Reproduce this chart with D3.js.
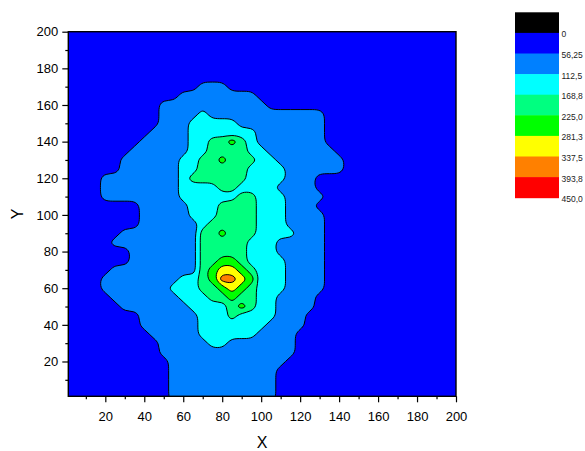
<!DOCTYPE html>
<html>
<head>
<meta charset="utf-8">
<script src="https://cdn.jsdelivr.net/npm/d3@7"></script>
<style>
  body { margin: 0; background: #fff; }
  svg { display: block; }
  text { font-family: "Liberation Sans", Arial, sans-serif; }
</style>
</head>
<body>
<svg id="chart" width="585" height="451"></svg>
<script>
// ---------------- data ----------------
const xTicks = [20, 40, 60, 80, 100, 120, 140, 160, 180, 200];
const xMinorTicks = [10, 30, 50, 70, 90, 110, 130, 150, 170, 190];
const yTicks = [20, 40, 60, 80, 100, 120, 140, 160, 180, 200];
const yMinorTicks = [10, 30, 50, 70, 90, 110, 130, 150, 170, 190];
const levelThresholds = [56.25, 112.5, 168.75, 225, 281.25, 337.5, 393.75];
const legendLabels = ["0", "56,25", "112,5", "168,8", "225,0", "281,3", "337,5", "393,8", "450,0"];
const legendColors = ["#000000", "#0000FF", "#0080FF", "#00FFFF", "#00FF80", "#00FF00", "#FFFF00", "#FF8000", "#FF0000"];
const bandWidth = 56.25;   // z width of one colour band
const gridStep = 5;        // x / y spacing of the sampled grid (0..200)
// sampled z band (1 = 0..56.25, 2 = 56.25..112.5, ...) ; first row is y = 200, last row is y = 0
const gridRows = [
  "1111111111 1111111111 1111111111 1111111111 1", // 200
  "1111111111 1111111111 1111111111 1111111111 1", // 195
  "1111111111 1111111111 1111111111 1111111111 1", // 190
  "1111111111 1111111111 1111111111 1111111111 1", // 185
  "1111111111 1111111111 1111111111 1111111111 1", // 180
  "1111111111 1111111111 1111111111 1111111111 1", // 175
  "1111111111 1111222111 1111111111 1111111111 1", // 170
  "1111111111 1122222222 1111111111 1111111111 1", // 165
  "1111111111 2222222222 2111111111 1111111111 1", // 160
  "1111111111 2222322222 2222222111 1111111111 1", // 155
  "1111111111 2223333322 2222222111 1111111111 1", // 150
  "1111111112 2223333333 2222222111 1111111111 1", // 145
  "1111111122 2223344543 2222222111 1111111111 1", // 140
  "1111111222 2223344443 3222222211 1111111111 1", // 135
  "1111112222 2233445444 3322222221 1111111111 1", // 130
  "1111112222 2233444443 3332222221 1111111111 1", // 125
  "1111222222 2234444443 3332221111 1111111111 1", // 120
  "1111222222 2233334433 3322221111 1111111111 1", // 115
  "1111222222 2233333344 3332222111 1111111111 1", // 110
  "1111111122 2223334444 3332221111 1111111111 1", // 105
  "1111111122 2223334444 3332222111 1111111111 1", // 100
  "1111111122 2222344444 3332222111 1111111111 1", // 95
  "1111112222 2222445444 3333222111 1111111111 1", // 90
  "1111122222 2222444443 3322222111 1111111111 1", // 85
  "1111111222 2222444443 3322222111 1111111111 1", // 80
  "1111111222 2222445543 3332222111 1111111111 1", // 75
  "1111122222 2222456654 3332222111 1111111111 1", // 70
  "1111222222 2233457765 3332222111 1111111111 1", // 65
  "1111222222 2333445654 3332222111 1111111111 1", // 60
  "1111122222 2233344544 3322221111 1111111111 1", // 55
  "1111112222 2223333454 3322221111 1111111111 1", // 50
  "1111111122 2222333433 3322211111 1111111111 1", // 45
  "1111111122 2222333333 3222211111 1111111111 1", // 40
  "1111111112 2222333333 2222111111 1111111111 1", // 35
  "1111111111 2222233222 2222111111 1111111111 1", // 30
  "1111111111 2222222222 2222111111 1111111111 1", // 25
  "1111111111 1222222222 2221111111 1111111111 1", // 20
  "1111111111 1222222222 2211111111 1111111111 1", // 15
  "1111111111 1222222222 2211111111 1111111111 1", // 10
  "1111111111 1222222222 2211111111 1111111111 1", // 5
  "1111111111 1222222222 2211111111 1111111111 1"  // 0
];

// ---------------- layout ----------------
const svg = d3.select("#chart");
const plot = { left: 68.3, right: 456, top: 31.7, bottom: 396.3 };
const xScale = d3.scaleLinear().domain([1, 200]).range([plot.left, plot.right]);
const yScale = d3.scaleLinear().domain([1, 200]).range([plot.bottom, plot.top]);

// grid values (row index j -> y = j*gridStep)
const nx = 41, ny = gridRows.length;
const rowsBottomUp = gridRows.slice().reverse();
const values = new Array(nx * ny);
rowsBottomUp.forEach((r, j) => {
  const s = (r.replace(/\s+/g, "") + "1".repeat(nx)).slice(0, nx);
  for (let i = 0; i < nx; i++) values[j * nx + i] = (Number(s[i]) - 0.5) * bandWidth;
});

const contours = d3.contours().size([nx, ny]).thresholds(levelThresholds)(values);

// contour grid coordinates -> data -> pixels, drawn as smoothed closed rings
const toPx = p => [xScale((p[0] - 0.5) * gridStep), yScale((p[1] - 0.5) * gridStep)];
const ringLine = d3.line().curve(d3.curveBasisClosed);
function contourPath(c) {
  let d = "";
  c.coordinates.forEach(poly => poly.forEach(ring => {
    const pts = ring.slice(0, -1).map(toPx);
    d += ringLine(pts);
  }));
  return d;
}

svg.append("defs").append("clipPath").attr("id", "plotclip")
  .append("rect")
  .attr("x", plot.left).attr("y", plot.top)
  .attr("width", plot.right - plot.left).attr("height", plot.bottom - plot.top);

const g = svg.append("g").attr("clip-path", "url(#plotclip)");
g.append("rect")
  .attr("x", plot.left).attr("y", plot.top)
  .attr("width", plot.right - plot.left).attr("height", plot.bottom - plot.top)
  .attr("fill", legendColors[1]);

g.selectAll("path.band").data(contours).join("path")
  .attr("class", "band")
  .attr("d", contourPath)
  .attr("fill-rule", "evenodd")
  .attr("fill", (d, k) => legendColors[k + 2])
  .attr("stroke", "#000")
  .attr("stroke-width", 1)
  .attr("stroke-linejoin", "round");

// ---------------- axes ----------------
const axisColor = "#000";
const xAxisG = svg.append("g").attr("transform", `translate(0,${plot.bottom})`);
xAxisG.call(d3.axisBottom(xScale).tickValues(xTicks).tickSize(6).tickPadding(9).tickFormat(d3.format("d")));
const xMinorG = svg.append("g").attr("transform", `translate(0,${plot.bottom})`);
xMinorG.call(d3.axisBottom(xScale).tickValues(xMinorTicks).tickSize(3).tickFormat(""));

const yAxisG = svg.append("g").attr("transform", `translate(${plot.left},0)`);
yAxisG.call(d3.axisLeft(yScale).tickValues(yTicks).tickSize(6).tickPadding(4).tickFormat(d3.format("d")));
const yMinorG = svg.append("g").attr("transform", `translate(${plot.left},0)`);
yMinorG.call(d3.axisLeft(yScale).tickValues(yMinorTicks).tickSize(3).tickFormat(""));

[xAxisG, xMinorG, yAxisG, yMinorG].forEach(a => {
  a.select(".domain").remove();
  a.selectAll(".tick line").attr("stroke", axisColor).attr("stroke-width", 1.2);
  a.selectAll(".tick text").attr("fill", "#000").attr("font-size", 13)
    .attr("font-family", '"Liberation Sans", Arial, sans-serif');
});

svg.append("rect")
  .attr("x", plot.left).attr("y", plot.top)
  .attr("width", plot.right - plot.left).attr("height", plot.bottom - plot.top)
  .attr("fill", "none").attr("stroke", axisColor).attr("stroke-width", 1.4);

svg.append("text").attr("x", (plot.left + plot.right) / 2).attr("y", 448)
  .attr("text-anchor", "middle").attr("font-size", 16).text("X");
svg.append("text").attr("transform", `translate(23,${(plot.top + plot.bottom) / 2}) rotate(-90)`)
  .attr("text-anchor", "middle").attr("font-size", 16).text("Y");

// ---------------- colour legend ----------------
const legend = { x: 515, top: 12.3, bottom: 197.7, width: 44 };
const legendScale = d3.scaleBand().domain(d3.range(legendColors.length)).range([legend.top, legend.bottom]);
const lg = svg.append("g");
lg.selectAll("rect").data(legendColors).join("rect")
  .attr("x", legend.x).attr("y", (d, i) => legendScale(i))
  .attr("width", legend.width).attr("height", legendScale.bandwidth() + 0.5)
  .attr("fill", d => d);
lg.selectAll("text").data(legendLabels).join("text")
  .attr("x", legend.x + legend.width + 2.5)
  .attr("y", (d, i) => legendScale(i) + legendScale.bandwidth() + 4.5)
  .attr("font-size", 8.5).attr("fill", "#222")
  .text(d => d);
</script>
</body>
</html>
